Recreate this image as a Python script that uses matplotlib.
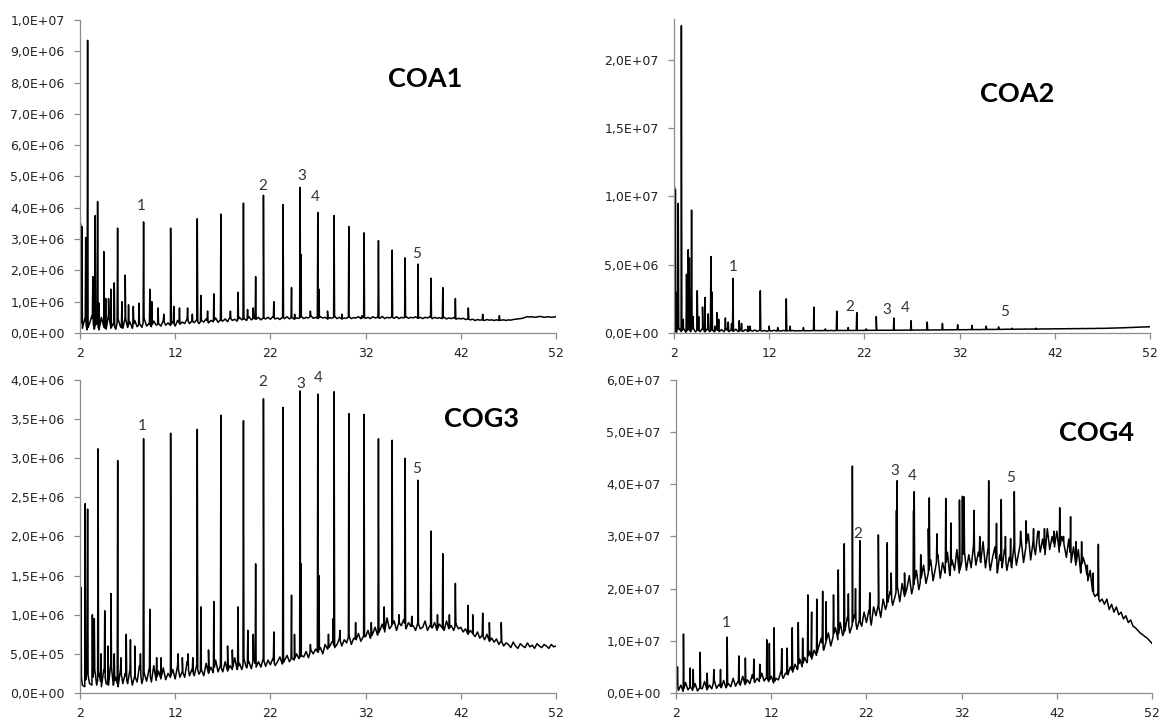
import matplotlib
matplotlib.use('Agg')
import matplotlib.pyplot as plt
import numpy as np
from matplotlib.ticker import FuncFormatter

plt.rcParams['font.family'] = ['Lato', 'DejaVu Sans']

# retention time grid for the baselines (min), 2.0 .. 52.0 step 0.25
grid_t = np.arange(2.0, 52.001, 0.25)

# ---- COA1 (values in 1e6 counts) ----
coa1_base = [
    0.60, 0.15, 0.45, 0.10, 0.30, 0.55, 0.12, 0.35, 0.10, 0.50,
    0.20, 0.12, 0.60, 0.15, 0.30, 0.12, 0.45, 0.20, 0.15, 0.50,
    0.18, 0.35, 0.15, 0.40, 0.20, 0.30, 0.18, 0.45, 0.22, 0.30,
    0.20, 0.38, 0.25, 0.30, 0.22, 0.40, 0.25, 0.32, 0.24, 0.36,
    0.22, 0.40, 0.28, 0.35, 0.30, 0.45, 0.30, 0.38, 0.33, 0.42,
    0.30, 0.40, 0.35, 0.45, 0.32, 0.40, 0.36, 0.48, 0.34, 0.42,
    0.38, 0.45, 0.36, 0.50, 0.40, 0.44, 0.38, 0.50, 0.42, 0.46,
    0.40, 0.52, 0.42, 0.47, 0.44, 0.50, 0.42, 0.48, 0.45, 0.50,
    0.44, 0.52, 0.45, 0.48, 0.43, 0.50, 0.46, 0.52, 0.45, 0.50,
    0.44, 0.48, 0.47, 0.53, 0.46, 0.50, 0.48, 0.55, 0.47, 0.50,
    0.46, 0.52, 0.48, 0.50, 0.45, 0.49, 0.47, 0.53, 0.46, 0.50,
    0.45, 0.48, 0.47, 0.52, 0.46, 0.49, 0.48, 0.52, 0.46, 0.50,
    0.47, 0.50, 0.46, 0.52, 0.48, 0.50, 0.47, 0.53, 0.46, 0.50,
    0.48, 0.51, 0.47, 0.52, 0.46, 0.50, 0.48, 0.52, 0.47, 0.50,
    0.48, 0.52, 0.47, 0.50, 0.46, 0.50, 0.48, 0.52, 0.46, 0.50,
    0.47, 0.49, 0.46, 0.50, 0.45, 0.48, 0.46, 0.49, 0.44, 0.47,
    0.45, 0.47, 0.43, 0.45, 0.42, 0.44, 0.40, 0.43, 0.41, 0.42,
    0.40, 0.43, 0.41, 0.42, 0.40, 0.42, 0.40, 0.41, 0.42, 0.40,
    0.42, 0.41, 0.43, 0.44, 0.45, 0.46, 0.47, 0.50, 0.52, 0.51,
    0.52, 0.50, 0.51, 0.53, 0.52, 0.50, 0.51, 0.52, 0.50, 0.51,
    0.52]
coa1_pk_t = [2.05, 2.2, 2.6, 2.8, 3.35, 3.6, 3.85, 4.0, 4.5, 4.7, 5.0, 5.25,
             5.6, 5.95, 6.4, 6.75, 7.1, 7.6, 8.2, 8.68, 9.34, 9.55, 10.2,
             10.8, 11.52, 11.85, 12.45, 13.3, 13.8, 14.32, 14.7, 15.4, 16.06,
             16.8, 17.8, 18.6, 19.17, 19.6, 20.2, 20.45, 21.27, 22.36, 23.33,
             24.22, 24.55, 25.12, 25.23, 26.2, 26.98, 27.1, 28.0, 28.69,
             29.5, 30.24, 31.6, 31.84, 33.35, 34.79, 36.15, 37.5, 38.87,
             40.11, 41.43, 42.79, 44.3, 46.05]
coa1_pk_h = [3.5, 3.4, 3.05, 9.35, 1.8, 3.75, 4.2, 0.95, 2.6, 1.1, 1.1, 1.4,
             1.6, 3.35, 1.0, 1.85, 0.9, 0.85, 0.95, 3.55, 1.4, 1.0, 0.8,
             0.6, 3.35, 0.85, 0.8, 0.8, 0.6, 3.65, 1.2, 0.7, 1.25,
             3.8, 0.7, 1.3, 4.15, 0.75, 0.8, 1.8, 4.4, 1.0, 4.1,
             1.45, 0.6, 4.65, 2.5, 0.7, 3.85, 1.4, 0.7, 3.75,
             0.6, 3.4, 0.55, 3.2, 2.95, 2.65, 2.4, 2.2, 1.75,
             1.45, 1.1, 0.8, 0.6, 0.55]

# ---- COA2 ----
coa2_base = [
    0.30, 0.05, 0.40, 0.10, 0.35, 0.05, 0.30, 0.10, 0.40, 0.08,
    0.25, 0.10, 0.35, 0.08, 0.30, 0.10, 0.25, 0.08, 0.30, 0.10,
    0.25, 0.10, 0.30, 0.10, 0.22, 0.12, 0.28, 0.10, 0.20, 0.12,
    0.25, 0.12, 0.20, 0.14, 0.22, 0.12, 0.20, 0.14, 0.18, 0.13,
    0.18, 0.14, 0.20, 0.15, 0.17, 0.15, 0.19, 0.15, 0.18, 0.16,
    0.18, 0.15, 0.17, 0.16, 0.18, 0.16, 0.17, 0.16, 0.18, 0.17,
    0.18, 0.17, 0.18, 0.17, 0.18, 0.17, 0.19, 0.17, 0.18, 0.18,
    0.19, 0.18, 0.19, 0.18, 0.19, 0.18, 0.19, 0.18, 0.19, 0.19,
    0.19, 0.19, 0.20, 0.19, 0.20, 0.19, 0.20, 0.20, 0.20, 0.20,
    0.20, 0.20, 0.21, 0.20, 0.21, 0.20, 0.21, 0.21, 0.21, 0.21,
    0.21, 0.21, 0.22, 0.21, 0.22, 0.22, 0.22, 0.22, 0.22, 0.22,
    0.23, 0.22, 0.23, 0.23, 0.23, 0.23, 0.24, 0.23, 0.24, 0.24,
    0.24, 0.24, 0.24, 0.24, 0.25, 0.24, 0.25, 0.25, 0.25, 0.25,
    0.26, 0.25, 0.26, 0.26, 0.26, 0.26, 0.27, 0.26, 0.27, 0.27,
    0.27, 0.27, 0.28, 0.27, 0.28, 0.28, 0.28, 0.28, 0.29, 0.28,
    0.29, 0.29, 0.29, 0.29, 0.30, 0.29, 0.30, 0.30, 0.30, 0.30,
    0.31, 0.30, 0.31, 0.31, 0.31, 0.31, 0.32, 0.31, 0.32, 0.32,
    0.32, 0.32, 0.33, 0.32, 0.33, 0.33, 0.33, 0.33, 0.34, 0.34,
    0.34, 0.34, 0.35, 0.35, 0.36, 0.36, 0.37, 0.37, 0.38, 0.38,
    0.39, 0.40, 0.40, 0.41, 0.42, 0.42, 0.43, 0.44, 0.44, 0.45,
    0.45]
coa2_pk_t = [2.05, 2.15, 2.35, 2.45, 2.78, 2.98, 3.32, 3.5, 3.62, 3.85, 4.0,
             4.45, 4.6, 5.0, 5.25, 5.6, 5.88, 6.0, 6.3, 6.5, 6.7, 7.4, 7.7,
             8.05, 8.2, 8.86, 9.1, 9.75, 10.0, 11.07, 12.0, 12.9, 13.8,
             14.2, 15.6, 16.7, 17.9, 19.1, 20.3, 21.2, 22.2, 23.25, 25.1,
             26.9, 28.6, 30.2, 31.8, 33.3, 34.8, 36.1, 37.5, 38.8, 40.0]
coa2_pk_h = [10.7, 10.5, 3.0, 9.5, 22.5, 1.0, 4.3, 6.1, 5.5, 9.0, 1.2,
             3.1, 1.2, 1.9, 2.6, 1.4, 5.6, 3.0, 0.5, 1.5, 1.0, 1.1, 0.8,
             0.7, 4.0, 0.9, 0.7, 0.5, 0.5, 3.1, 0.5, 0.4, 2.5,
             0.5, 0.4, 1.9, 0.3, 1.6, 0.4, 1.5, 0.3, 1.2, 1.1,
             0.9, 0.8, 0.7, 0.6, 0.55, 0.5, 0.45, 0.35, 0.3, 0.35]

# ---- COG3 ----
cog3_base = [
    0.35, 0.10, 0.08, 0.30, 0.12, 0.10, 0.35, 0.10, 0.25, 0.08,
    0.30, 0.12, 0.10, 0.40, 0.10, 0.20, 0.08, 0.30, 0.12, 0.25,
    0.12, 0.30, 0.10, 0.22, 0.14, 0.35, 0.12, 0.25, 0.15, 0.30,
    0.14, 0.35, 0.16, 0.28, 0.18, 0.32, 0.17, 0.25, 0.20, 0.30,
    0.18, 0.35, 0.20, 0.28, 0.20, 0.40, 0.22, 0.30, 0.22, 0.35,
    0.24, 0.30, 0.22, 0.38, 0.25, 0.33, 0.26, 0.42, 0.27, 0.35,
    0.27, 0.40, 0.28, 0.35, 0.30, 0.45, 0.30, 0.38, 0.30, 0.42,
    0.32, 0.40, 0.31, 0.45, 0.33, 0.40, 0.33, 0.44, 0.34, 0.42,
    0.36, 0.44, 0.35, 0.40, 0.46, 0.37, 0.42, 0.48, 0.40, 0.45,
    0.42, 0.50, 0.44, 0.48, 0.46, 0.53, 0.45, 0.55, 0.50, 0.56,
    0.52, 0.58, 0.50, 0.62, 0.56, 0.60, 0.66, 0.58, 0.62, 0.70,
    0.60, 0.68, 0.64, 0.74, 0.62, 0.70, 0.68, 0.76, 0.66, 0.72,
    0.72, 0.80, 0.70, 0.76, 0.84, 0.74, 0.80, 0.88, 0.78, 0.96,
    0.82, 0.86, 0.92, 0.80, 0.90, 0.86, 0.94, 0.82, 0.90, 0.85,
    0.86, 0.80, 0.90, 0.82, 0.84, 0.92, 0.80, 0.86, 0.83, 0.90,
    0.80, 0.88, 0.84, 0.80, 0.92, 0.82, 0.86, 0.80, 0.88, 0.82,
    0.84, 0.78, 0.82, 0.75, 0.80, 0.76, 0.72, 0.78, 0.70, 0.74,
    0.68, 0.75, 0.66, 0.70, 0.65, 0.69, 0.62, 0.67, 0.60, 0.64,
    0.62, 0.58, 0.65, 0.60, 0.57, 0.63, 0.60, 0.58, 0.64, 0.59,
    0.61, 0.57, 0.63, 0.60, 0.58, 0.62, 0.60, 0.57, 0.62, 0.59,
    0.60]
cog3_pk_t = [2.1, 2.55, 2.8, 3.3, 3.5, 3.9, 4.2, 4.6, 4.95, 5.26, 5.6, 5.96,
             6.3, 6.86, 7.3, 7.75, 8.35, 8.68, 9.34, 10.05, 10.5, 11.52,
             12.3, 12.75, 13.35, 13.85, 14.32, 14.7, 15.5, 16.06, 16.8,
             17.5, 18.0, 18.6, 19.17, 19.63, 20.2, 20.45, 21.27, 22.36,
             23.33, 24.22, 24.53, 25.12, 25.23, 26.2, 26.98, 27.1, 28.1,
             28.6, 28.69, 29.3, 30.24, 30.95, 31.84, 32.6, 33.35, 33.95,
             34.79, 35.5, 36.15, 36.85, 37.5, 38.87, 39.55, 40.11, 40.8,
             41.43, 42.75, 43.25, 44.3, 45.0, 46.25]
cog3_pk_h = [1.35, 2.42, 2.35, 1.0, 0.95, 3.12, 0.5, 1.05, 0.6, 1.27, 0.5, 2.97,
             0.45, 0.75, 0.68, 0.6, 0.5, 3.25, 1.07, 0.45, 0.45, 3.32,
             0.5, 0.45, 0.5, 0.45, 3.37, 1.1, 0.55, 1.17, 3.55,
             0.6, 0.55, 1.1, 3.48, 0.8, 0.75, 1.65, 3.76, 0.78,
             3.65, 1.25, 0.75, 3.86, 1.65, 0.62, 3.82, 1.5, 0.75,
             0.95, 3.85, 0.8, 3.57, 0.9, 3.56, 0.9, 3.25, 1.1,
             3.23, 1.0, 3.0, 0.98, 2.72, 2.07, 1.0, 1.78, 1.0,
             1.4, 1.12, 1.0, 1.02, 0.9, 0.9]

# ---- COG4 ----
cog4_base = [
    2.5, 0.5, 1.5, 0.3, 2.0, 0.6, 1.2, 0.5, 1.8, 0.4,
    1.0, 0.8, 2.2, 0.6, 1.5, 0.8, 2.5, 0.9, 1.6, 1.0,
    2.4, 1.0, 1.8, 1.2, 2.8, 1.3, 2.2, 1.5, 3.2, 1.6,
    2.5, 1.8, 3.5, 2.0, 2.8, 2.2, 3.8, 2.3, 3.0, 2.2,
    3.2, 1.9, 2.8, 2.5, 4.0, 2.8, 3.8, 3.5, 5.0, 4.0,
    5.5, 4.5, 6.5, 5.0, 6.8, 5.8, 8.0, 6.5, 8.2, 7.2,
    9.0, 10.5, 8.2, 9.8, 11.5, 9.0, 10.8, 12.5, 10.2, 13.5,
    11.0, 12.0, 14.5, 11.5, 13.0, 15.0, 12.2, 14.0, 12.8, 15.5,
    13.5, 15.8, 13.0, 16.5, 14.8, 17.0, 14.5, 18.0, 16.0, 17.5,
    19.5, 16.8, 18.5, 20.5, 17.5, 21.0, 18.5, 20.0, 22.5, 19.0,
    21.0, 23.5, 19.8, 22.0, 24.5, 21.0, 23.0, 25.5, 21.5, 24.0,
    26.5, 22.0, 25.0, 23.0, 27.0, 22.5, 25.5, 23.5, 27.5, 23.0,
    25.0, 28.0, 23.5, 26.5, 24.0, 28.5, 24.5, 27.0, 25.0, 29.0,
    24.0, 27.5, 23.5, 26.0, 28.0, 23.0, 26.5, 24.0, 27.5, 23.5,
    26.0, 24.0, 28.5, 24.5, 27.0, 29.5, 25.0, 28.0, 30.5, 25.5,
    29.0, 26.5, 31.0, 27.0, 29.5, 26.5, 31.5, 27.5, 30.0, 28.0,
    31.0, 27.0, 30.0, 28.5, 26.0, 29.5, 25.0, 28.0, 24.5, 27.5,
    23.0, 26.0, 24.5, 21.5, 23.5, 19.5, 18.5, 19.0, 17.5, 18.0,
    17.0, 18.0, 16.0, 17.0, 15.5, 16.5, 15.0, 15.5, 14.2, 14.8,
    13.5, 14.0, 12.8, 12.5, 12.0, 11.5, 11.2, 10.8, 10.5, 10.0,
    9.5]
cog4_pk_t = [2.15, 2.78, 3.48, 3.8, 4.53, 5.27, 5.97, 6.67, 7.37, 8.6, 9.28,
             10.17, 10.8, 11.53, 11.8, 12.3, 13.1, 13.67, 14.2, 14.84, 15.3,
             15.85, 16.24, 16.78, 17.4, 17.75, 18.54, 19.04, 19.67, 20.1,
             20.52, 20.85, 21.3, 22.35, 23.25, 24.18, 24.6, 25.15, 25.23,
             26.0, 26.95, 27.02, 27.7, 28.5, 28.6, 29.4, 30.33, 30.87,
             31.77, 32.08, 32.25, 33.3, 33.9, 34.84, 35.66, 36.16, 36.6,
             37.14, 37.53, 38.19, 38.77, 39.55, 40.1, 40.7, 41.7, 42.3,
             42.7, 43.44, 44.0, 44.6, 45.2, 45.8, 46.36]
cog4_pk_h = [5.0, 11.3, 4.8, 4.5, 7.8, 3.8, 4.5, 4.5, 10.7, 7.1, 6.7,
             6.5, 5.5, 10.2, 9.5, 12.5, 8.5, 8.6, 12.5, 13.5, 10.5,
             18.8, 15.5, 18.0, 19.5, 17.5, 18.8, 23.6, 28.6, 19.0,
             43.5, 20.0, 29.2, 19.2, 30.3, 28.8, 23.0, 35.0, 40.7,
             23.0, 35.0, 38.6, 26.5, 31.5, 37.4, 30.5, 37.3, 32.6,
             37.0, 37.7, 37.6, 35.0, 30.0, 40.7, 32.5, 37.1, 30.0,
             29.6, 38.6, 31.0, 33.0, 31.5, 31.0, 31.5, 31.0, 35.5,
             30.0, 33.8, 29.0, 29.0, 24.5, 23.0, 28.5]

# peak number labels: (time, height in 1e6)
label_txt = ['1', '2', '3', '4', '5']
coa1_lab_t = [8.4, 21.2, 25.3, 26.7, 37.4]
coa1_lab_y = [4.05, 4.7, 5.0, 4.33, 2.52]
coa2_lab_t = [8.24, 20.5, 24.4, 26.3, 36.7]
coa2_lab_y = [4.84, 1.94, 1.7, 1.84, 1.57]
cog3_lab_t = [8.57, 21.15, 25.2, 27.05, 37.4]
cog3_lab_y = [3.41, 3.97, 3.95, 4.03, 2.86]
cog4_lab_t = [7.25, 21.07, 24.96, 26.8, 37.1]
cog4_lab_y = [13.4, 30.5, 42.5, 41.6, 41.3]


def build_trace(base, pk_t, pk_h, w=0.05):
    ''' merge baseline points with narrow peaks '''
    base = np.asarray(base)
    pk_t = np.asarray(pk_t)
    pk_h = np.asarray(pk_h)
    foot_l = np.interp(pk_t - w, grid_t, base)
    foot_r = np.interp(pk_t + w, grid_t, base)
    t = np.concatenate([grid_t, pk_t - w, pk_t, pk_t + w])
    y = np.concatenate([base, foot_l, pk_h, foot_r])
    order = np.argsort(t, kind='stable')
    return t[order], y[order] * 1e6


def sci_comma(v, pos):
    return ('%.1E' % v).replace('.', ',')


def panel(ax, base, pk_t, pk_h, ymax, ystep, title, title_xy, lab_t, lab_y):
    t, y = build_trace(base, pk_t, pk_h)
    ax.plot(t, y, color='black', lw=1.1)
    ax.set_xlim(2, 52)
    ax.set_ylim(0, ymax)
    ax.set_xticks([2, 12, 22, 32, 42, 52])
    ax.set_yticks(np.arange(0, ymax + 1, ystep))
    ax.yaxis.set_major_formatter(FuncFormatter(sci_comma))
    for s in ['top', 'right']:
        ax.spines[s].set_visible(False)
    for s in ['left', 'bottom']:
        ax.spines[s].set_color('#8c8c8c')
        ax.spines[s].set_linewidth(0.9)
    ax.tick_params(axis='both', colors='#8c8c8c', labelcolor='#222222',
                   labelsize=9, length=4, width=0.9, direction='out')
    for lab in ax.get_xticklabels() + ax.get_yticklabels():
        lab.set_family(['DejaVu Sans'])
    ax.tick_params(axis='x', pad=6)
    ax.tick_params(axis='y', pad=7)
    ax.text(title_xy[0], title_xy[1] * 1e6, title, fontsize=19.5,
            fontweight='bold', ha='center', va='center')
    for txt, lt, ly in zip(label_txt, lab_t, lab_y):
        ax.text(lt, ly * 1e6, txt, fontsize=11, color='#333333',
                ha='center', va='center', clip_on=False)


fig = plt.figure(figsize=(11.61, 7.22), dpi=100)
ax1 = fig.add_axes([0.0689, 0.5388, 0.41, 0.4335])
ax2 = fig.add_axes([0.5805, 0.5388, 0.41, 0.4349])
ax3 = fig.add_axes([0.0689, 0.0402, 0.41, 0.4335])
ax4 = fig.add_axes([0.5823, 0.0402, 0.41, 0.4335])

panel(ax1, coa1_base, coa1_pk_t, coa1_pk_h, 1.0e7, 1.0e6, 'COA1',
      (38.3, 8.1), coa1_lab_t, coa1_lab_y)
panel(ax2, coa2_base, coa2_pk_t, coa2_pk_h, 2.3e7, 5.0e6, 'COA2',
      (38.0, 17.5), coa2_lab_t, coa2_lab_y)
panel(ax3, cog3_base, cog3_pk_t, cog3_pk_h, 4.0e6, 5.0e5, 'COG3',
      (44.2, 3.5), cog3_lab_t, cog3_lab_y)
panel(ax4, cog4_base, cog4_pk_t, cog4_pk_h, 6.0e7, 1.0e7, 'COG4',
      (46.2, 49.9), cog4_lab_t, cog4_lab_y)

plt.savefig('out.png', dpi=100)
plt.close()
